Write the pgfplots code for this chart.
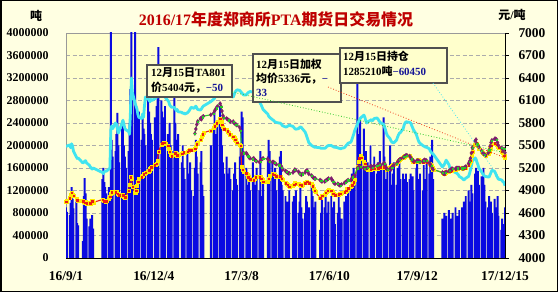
\documentclass[border=0pt]{standalone}
\usepackage{fontspec}
\setmainfont{Liberation Serif}
\newfontfamily\cjk{Noto Sans CJK SC}
\usepackage{pgfplots}
\pgfplotsset{compat=1.18}
\usepackage{pgfplotstable}
\definecolor{outerbg}{RGB}{255,255,226}
\definecolor{plotbg}{RGB}{255,255,204}
\definecolor{barblue}{RGB}{10,10,225}
\definecolor{oicyan}{RGB}{64,228,240}
\definecolor{titlered}{RGB}{190,0,0}
\definecolor{lblue}{RGB}{20,20,150}
\definecolor{tagreen}{RGB}{40,200,40}
\definecolor{tapurple}{RGB}{128,30,110}
\definecolor{boxgray}{RGB}{80,80,80}
\definecolor{wred}{RGB}{235,30,20}
\definecolor{wyellow}{RGB}{255,235,0}

\pgfplotstableread{
d v o w t
0 900000 1980000 4750 nan
1 820000 1990000 4770 nan
4 760000 2010000 4800 nan
5 980000 1960000 4840 nan
6 1260000 2030000 4870 nan
7 1050000 1990000 4850 nan
8 880000 1900000 4830 nan
11 1000000 1800000 4790 nan
12 620000 1770000 4770 nan
13 580000 1780000 4760 nan
18 300000 1690000 4760 nan
19 1100000 1700000 4750 nan
20 1420000 1720000 4740 nan
21 1150000 1730000 4750 nan
22 700000 1690000 4730 nan
25 560000 1650000 4740 nan
26 700000 1620000 4730 nan
27 640000 1600000 4750 nan
28 760000 1580000 4760 nan
29 520000 1600000 4740 nan
39 1400000 1520000 4780 nan
40 1600000 1500000 4770 nan
41 1350000 1530000 4760 nan
42 1260000 1550000 4750 nan
43 1150000 1540000 4760 nan
46 1260000 1580000 4790 nan
47 1200000 1600000 4820 nan
48 4100000 2280000 4860 nan
49 2100000 2350000 4880 nan
50 1800000 2300000 4870 nan
53 1900000 2400000 4880 nan
54 2200000 2380000 4890 nan
55 2580000 2300000 4860 nan
56 2000000 2220000 4850 nan
57 1700000 2260000 4840 nan
60 2300000 2400000 4830 nan
61 2450000 2450000 4840 nan
62 2000000 2380000 4820 nan
63 1800000 2300000 4810 nan
64 1600000 2280000 4820 nan
67 1900000 2250000 4900 nan
68 2400000 2200000 4980 nan
69 3000000 2600000 5080 nan
70 4100000 3200000 5060 nan
71 2800000 2950000 4950 nan
74 4100000 2750000 4870 nan
75 2700000 2700000 4900 nan
76 2500000 2650000 4960 nan
77 2300000 2550000 5020 nan
78 2600000 2500000 5060 nan
81 2100000 2480000 5080 nan
82 2500000 2560000 5100 nan
83 2300000 2500000 5120 nan
84 2200000 2700000 5130 nan
85 2000000 2860000 5140 nan
88 3100000 2830000 5150 nan
89 2600000 2800000 5170 nan
90 2400000 2780000 5190 nan
91 2200000 2820000 5210 nan
92 2100000 2800000 5220 nan
95 2500000 2830000 5240 nan
96 2300000 2850000 5250 nan
97 2700000 2870000 5260 nan
98 3000000 2860000 5300 nan
99 3750000 2900000 5420 nan
102 2800000 2990000 5510 nan
103 2600000 2950000 5530 nan
104 2500000 2920000 5520 nan
105 2300000 2880000 5540 nan
106 2700000 2860000 5530 nan
109 2200000 2800000 5500 nan
110 2100000 2780000 5460 nan
111 2400000 2720000 5420 nan
112 2000000 2700000 5380 nan
113 1900000 2680000 5360 nan
116 2900000 2680000 5380 nan
117 2400000 2650000 5400 nan
118 2100000 2620000 5390 nan
119 1800000 2640000 5370 nan
120 2200000 2600000 5380 nan
124 1700000 2590000 5390 nan
125 2000000 2570000 5400 nan
126 1600000 2580000 5410 nan
127 1400000 2560000 5400 nan
130 1900000 2580000 5420 nan
131 1500000 2600000 5430 nan
132 1300000 2620000 5440 nan
133 1700000 2650000 5450 nan
134 1200000 2680000 5440 nan
137 1100000 2660000 5450 nan
138 1600000 2680000 5460 5660
139 2100000 2700000 5480 5720
140 1800000 2670000 5520 5780
141 1500000 2640000 5540 5820
144 1700000 2630000 5580 5860
145 1900000 2650000 5620 5850
146 1300000 2680000 5650 5880
147 1100000 2700000 5670 5890
155 2000000 2780000 5700 5910
158 2300000 2820000 5740 5930
159 2600000 2840000 5760 5960
160 2200000 2880000 5780 5980
161 1900000 2950000 5800 6000
162 2400000 3000000 5820 6020
165 2700000 3160000 5860 6060
166 2300000 3050000 5820 6020
167 2000000 2980000 5780 5960
168 1700000 2950000 5750 5900
169 1500000 2940000 5720 5870
172 1800000 2930000 5710 5860
173 1500000 2900000 5690 5850
174 1300000 2880000 5670 5840
175 1600000 2870000 5650 5830
176 1400000 2880000 5640 5820
179 1200000 2860000 5620 5820
180 1500000 2900000 5600 5800
181 1700000 2950000 5580 5790
182 1400000 2970000 5560 5780
183 1300000 2990000 5540 5770
186 1800000 2980000 5510 5740
187 2000000 2960000 5500 5700
188 2600000 2940000 5220 5380
189 2500000 2920000 5180 5390
190 1900000 2900000 5150 5400
193 1600000 2900000 5130 5400
194 1300000 2920000 5110 5380
195 1100000 2940000 5080 5360
196 1500000 2950000 5060 5340
197 1200000 2960000 5050 5330
200 1700000 2950000 5040 5320
201 1400000 2950000 5040 5330
202 1000000 2920000 5060 5310
203 1300000 2880000 5080 5300
204 1600000 2850000 5090 5290
207 1200000 2800000 5080 5280
208 1900000 2750000 5080 5290
209 1100000 2720000 5060 5310
210 900000 2680000 5040 5320
211 1400000 2640000 5020 5330
216 1800000 2560000 5020 5320
217 2100000 2520000 5060 5300
218 1900000 2500000 5100 5290
221 1700000 2460000 5120 5280
222 1500000 2450000 5130 5280
223 1300000 2430000 5110 5270
224 1600000 2420000 5100 5260
225 1200000 2410000 5090 5250
228 1400000 2400000 5080 5240
229 1800000 2400000 5090 5240
230 1900000 2390000 5080 5230
231 1300000 2370000 5060 5210
232 1200000 2350000 5040 5180
235 1100000 2330000 5000 5160
236 900000 2330000 4990 5150
237 1000000 2340000 4980 5140
238 800000 2350000 4960 5130
239 1200000 2360000 4950 5130
243 1000000 2340000 4960 5140
244 1100000 2320000 4980 5160
245 900000 2300000 5000 5180
246 1200000 2290000 4990 5170
249 800000 2300000 4990 5150
250 1000000 2320000 4980 5130
251 1260000 2330000 4970 5120
252 900000 2320000 4970 5110
253 700000 2300000 4980 5120
256 800000 2240000 5000 5140
257 1100000 2200000 5010 5160
258 1000000 2150000 5020 5170
259 600000 2100000 5010 5150
260 900000 2050000 5000 5120
263 1300000 2000000 4990 5100
264 1100000 1990000 4960 5080
265 900000 1980000 4930 5070
266 700000 1970000 4900 5060
267 1000000 1970000 4880 5060
272 500000 1960000 4800 5040
273 800000 1950000 4810 5030
274 1100000 1950000 4830 5020
277 900000 1950000 4850 5020
278 1200000 1960000 4870 5030
279 800000 1980000 4880 5040
280 600000 1990000 4900 5050
281 1000000 2000000 4910 5060
284 1100000 2000000 4900 5060
285 700000 1990000 4880 5040
286 900000 1980000 4860 5020
287 1000000 1970000 4850 5000
288 600000 1970000 4840 4990
291 800000 1960000 4840 4990
292 1100000 1950000 4850 4980
293 900000 1950000 4860 4970
294 500000 1940000 4860 4970
295 700000 1950000 4870 4980
298 1000000 1960000 4880 5000
299 800000 1980000 4890 5010
300 1100000 2000000 4900 5020
301 900000 2020000 4920 5030
302 1200000 2040000 4930 5040
305 1300000 2060000 4950 5040
306 1500000 2100000 4970 5060
307 1400000 2150000 4990 5080
308 1600000 2200000 5010 5090
309 1500000 2260000 5050 5100
312 3160000 2380000 5220 5200
313 2200000 2420000 5280 5210
314 2000000 2450000 5330 5200
315 2450000 2480000 5370 5220
316 1800000 2500000 5340 5210
319 2300000 2540000 5280 5200
320 1600000 2500000 5260 5190
321 1900000 2440000 5220 5200
322 1500000 2400000 5190 5200
323 1700000 2420000 5180 5210
326 2000000 2450000 5180 5220
327 1400000 2460000 5190 5220
328 1600000 2440000 5200 5210
329 1300000 2460000 5200 5220
330 1800000 2480000 5190 5230
333 1500000 2490000 5190 5230
334 1700000 2470000 5200 5240
335 1300000 2440000 5200 5250
336 1900000 2420000 5210 5250
337 1600000 2400000 5200 5240
340 2500000 2380000 5210 5260
341 1800000 2330000 5220 5260
342 1400000 2280000 5200 5240
343 1200000 2220000 5180 5200
344 1600000 2180000 5190 5180
347 2000000 2120000 5210 5190
348 1300000 2080000 5220 5180
349 1100000 2060000 5230 5210
350 1500000 2050000 5240 5230
351 1700000 2050000 5240 5240
354 1300000 2100000 5260 5260
355 1600000 2150000 5280 5280
356 1200000 2190000 5300 5300
357 1750000 2220000 5310 5310
358 1400000 2230000 5330 5320
361 1500000 2300000 5340 5340
362 1300000 2360000 5350 5350
363 1400000 2400000 5360 5360
364 1500000 2420000 5370 5370
365 1350000 2420000 5370 5370
368 1400000 2410000 5360 5360
369 1500000 2400000 5340 5340
370 1300000 2360000 5310 5320
371 1450000 2320000 5290 5300
372 1200000 2280000 5280 5300
375 1600000 2200000 5290 5290
376 1750000 2150000 5300 5300
377 1400000 2100000 5310 5300
378 1300000 2060000 5300 5290
379 1500000 2040000 5290 5280
382 1200000 2000000 5280 5290
383 1650000 1990000 5290 5300
384 1400000 1980000 5300 5310
385 1300000 1970000 5290 5300
386 1700000 1970000 5280 5300
389 1500000 1940000 5260 5270
390 1800000 1900000 5240 5250
391 1600000 1880000 5230 5230
392 2100000 1860000 5200 5200
393 1400000 1850000 5180 5180
403 700000 1620000 5140 5140
404 600000 1640000 5130 5130
405 800000 1660000 5120 5120
406 500000 1700000 5140 5140
407 750000 1740000 5150 5150
410 850000 1660000 5150 5160
411 600000 1600000 5160 5170
412 700000 1560000 5170 5180
413 500000 1550000 5170 5190
414 800000 1540000 5180 5190
417 900000 1520000 5180 5190
418 600000 1510000 5190 5200
419 750000 1500000 5190 5200
420 550000 1480000 5200 5200
421 850000 1450000 5200 5200
424 900000 1420000 5200 5200
425 700000 1400000 5190 5190
426 1000000 1390000 5200 5200
427 800000 1400000 5200 5210
428 1100000 1420000 5210 5220
431 1200000 1450000 5240 5260
432 900000 1500000 5270 5290
433 1000000 1560000 5300 5330
434 1300000 1640000 5360 5400
435 1150000 1720000 5420 5470
438 1500000 1780000 5510 5560
439 1600000 1760000 5530 5580
440 1400000 1700000 5510 5520
441 1550000 1660000 5500 5500
442 1300000 1600000 5460 5480
445 1450000 1530000 5420 5430
446 1200000 1500000 5400 5400
447 1600000 1480000 5390 5390
448 1300000 1460000 5380 5380
449 1000000 1450000 5370 5370
452 900000 1440000 5390 5400
453 1100000 1440000 5420 5440
454 700000 1480000 5460 5490
455 1000000 1520000 5500 5540
456 800000 1560000 5520 5570
459 1050000 1540000 5530 5590
460 600000 1500000 5520 5590
461 900000 1460000 5510 5580
462 1100000 1430000 5490 5540
463 750000 1400000 5470 5500
466 500000 1390000 5450 5470
467 700000 1380000 5420 5460
468 550000 1350000 5400 5440
469 600000 1345660 5369 5454
470 900000 1285210 5336 5404
}\data

\begin{document}
\begin{tikzpicture}
\fill[outerbg] (0,0) rectangle (558bp,292bp);
\useasboundingbox (0,0) rectangle (558bp,292bp);

\begin{axis}[
  at={(66bp,34bp)}, anchor=south west, scale only axis,
  width=439bp, height=225bp,
  xmin=0, xmax=470, ymin=0, ymax=4000000,
  axis background/.style={fill=plotbg},
  axis line style={draw=gray!80, line width=0.8bp},
  xtick={0,94,188,282,376,470},
  xticklabels={16/9/1,16/12/4,17/3/8,17/6/10,17/9/12,17/12/15},
  ytick={0,400000,800000,1200000,1600000,2000000,2400000,2800000,3200000,3600000,4000000},
  scaled y ticks=false,
  ymajorgrids,
  grid style={gray!65, dash pattern=on 4bp off 2.5bp, line width=0.6bp},
  tick style={draw=none},
  /pgf/number format/assume math mode=true,
  /pgf/number format/fixed, /pgf/number format/1000 sep={},
  yticklabel style={font=\bfseries\fontsize{12}{13}\selectfont, xshift=-14bp},
  xticklabel style={font=\bfseries\fontsize{13.5}{14}\selectfont, yshift=-10bp},
]
\addplot[ybar, bar width=2.1, bar shift=0pt, fill=barblue, draw=none] table[x=d,y=v]{\data};
\addplot[oicyan, line width=2.8bp, line join=round] table[x=d,y=o]{\data};
\coordinate (oiend) at (axis cs:470,1285210);
\end{axis}

\begin{axis}[
  at={(66bp,34bp)}, anchor=south west, scale only axis,
  width=439bp, height=225bp,
  xmin=0, xmax=470, ymin=4000, ymax=7000,
  axis y line*=right, axis x line*=bottom,
  axis line style={black, line width=0.8bp, -},
  xtick=\empty,
  ytick={4000,4300,4600,4900,5200,5500,5800,6100,6400,6700,7000},
  ytick style={black, line width=0.8bp},
  tick align=outside, major tick length=4bp,
  /pgf/number format/assume math mode=true,
  /pgf/number format/fixed, /pgf/number format/1000 sep={},
  yticklabel style={font=\bfseries\fontsize{13.5}{14}\selectfont, xshift=6bp},
]
\addplot[wred, line width=1.1bp, mark=square*, mark size=1.6bp,
  mark options={fill=wyellow, draw=wyellow, line width=0.2bp}] table[x=d,y=w]{\data};
\addplot[only marks, mark=square*, mark size=0.75bp, mark repeat=2,
  mark options={fill=wred, draw=wred, line width=0.1bp}] table[x=d,y=w]{\data};
\addplot[tagreen, line width=1.1bp, mark=diamond*, mark size=2.1bp,
  mark options={fill=tapurple, draw=tapurple, line width=0.2bp}] table[x=d,y=t]{\data};
\addplot[only marks, mark=square*, mark size=0.6bp, mark repeat=3,
  mark options={fill=tagreen, draw=tagreen, line width=0.1bp}] table[x=d,y=t]{\data};
\coordinate (taend) at (axis cs:470,5404);
\coordinate (wend) at (axis cs:470,5336);
\end{axis}

% callout boxes
\begin{scope}[font=\bfseries\fontsize{11}{13}\selectfont]
\draw[boxgray, line width=1.3bp, fill=plotbg] (147bp,195bp) rectangle (232bp,227bp);
\node[anchor=base west, inner sep=0] at (151bp,215bp) {12{\cjk 月}15{\cjk 日}TA801};
\node[anchor=base west, inner sep=0] at (151bp,200bp) {{\cjk 价}5404{\cjk 元，}\textcolor{lblue}{−50}};

\draw[boxgray, line width=1.3bp, fill=plotbg] (253bp,190bp) rectangle (341bp,238bp);
\node[anchor=base west, inner sep=0] at (256bp,223bp) {12{\cjk 月}15{\cjk 日加权}};
\node[anchor=base west, inner sep=0] at (256bp,209bp) {{\cjk 均价}5336{\cjk 元，}\textcolor{lblue}{−}};
\node[anchor=base west, inner sep=0] at (256bp,195bp) {\textcolor{lblue}{33}};

\draw[boxgray, line width=1.3bp, fill=plotbg] (340bp,209bp) rectangle (447bp,244bp);
\node[anchor=base west, inner sep=0] at (343bp,231bp) {12{\cjk 月}15{\cjk 日持仓}};
\node[anchor=base west, inner sep=0] at (343bp,216bp) {1285210{\cjk 吨}\textcolor{lblue}{−60450}};
\end{scope}

\draw[tagreen, dotted, line width=0.8bp] (232bp,200bp) -- (taend);
\draw[wred!80!orange, dotted, line width=0.8bp] (328bp,205bp) -- (wend);
\draw[oicyan, dotted, line width=0.8bp] (433bp,209bp) -- (oiend);

% title and unit labels
\node at (276bp,273bp) {\color{titlered}\bfseries\fontsize{16}{18}\selectfont 2016/17{\cjk 年度郑商所}PTA{\cjk 期货日交易情况}};
\node at (36bp,276bp) {\bfseries\fontsize{12}{13}\selectfont{\cjk 吨}};
\node at (512bp,277bp) {\bfseries\fontsize{12}{13}\selectfont{\cjk 元}/{\cjk 吨}};

\draw[black, line width=1.5bp] (0.75bp,0.75bp) rectangle (557.25bp,291.25bp);
\end{tikzpicture}
\end{document}
